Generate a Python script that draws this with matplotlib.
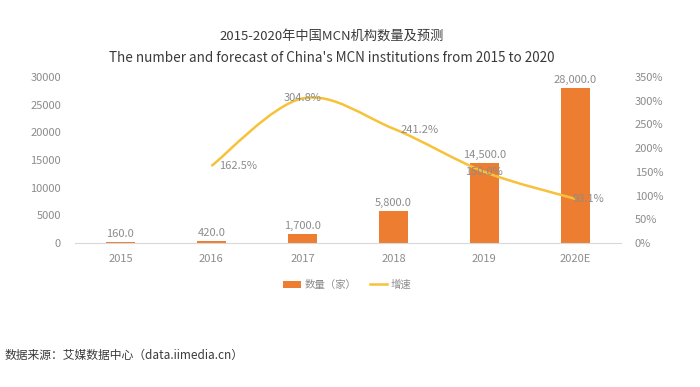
import matplotlib
matplotlib.use("Agg")
import matplotlib.pyplot as plt
from matplotlib.path import Path
from matplotlib.patches import PathPatch, Patch
from matplotlib.lines import Line2D
from matplotlib.ticker import FuncFormatter
import numpy as np

plt.rcParams["font.family"] = ["Noto Sans CJK SC", "DejaVu Sans"]

# 数据
years = ["2015", "2016", "2017", "2018", "2019", "2020E"]
counts = [160, 420, 1700, 5800, 14500, 28000]
growth_years = ["2016", "2017", "2018", "2019", "2020E"]
growth = [162.5, 304.8, 241.2, 150.0, 93.1]

BAR_COLOR = "#ED7D31"
LINE_COLOR = "#F7C23A"
GRIS = "#8C8C8C"
TEXTO = "#3A3A3A"


def _curva_suave(xs, ys, t=0.5):
    """Path bezier tipo Catmull-Rom a traves de los puntos."""
    pts = np.column_stack([xs, ys]).astype(float)
    verts = [pts[0]]
    codes = [Path.MOVETO]
    n = len(pts)
    for i in range(n - 1):
        p0 = pts[i - 1] if i > 0 else pts[i]
        p1 = pts[i]
        p2 = pts[i + 1]
        p3 = pts[i + 2] if i + 2 < n else pts[i + 1]
        c1 = p1 + (p2 - p0) * t / 3
        c2 = p2 - (p3 - p1) * t / 3
        verts += [c1, c2, p2]
        codes += [Path.CURVE4] * 3
    return Path(verts, codes)


fig = plt.figure(figsize=(7, 3.87), dpi=100)
ax = fig.add_axes([0.107, 0.372, 0.78, 0.429])
ax2 = ax.twinx()

x = np.arange(len(years))
ax.bar(x, counts, width=0.32, color=BAR_COLOR, zorder=2)
for xi, v in zip(x, counts):
    ax.text(xi, v + 500, f"{v:,.1f}", ha="center", va="bottom",
            fontsize=8, color=GRIS)

ax.set_xlim(-0.5, len(years) - 0.5)
ax.set_ylim(0, 30000)
ax.set_yticks(range(0, 30001, 5000))
ax.set_xticks(x)
ax.set_xticklabels(years)

# linea de crecimiento
gx = np.array([years.index(y) for y in growth_years], dtype=float)
gy = np.array(growth)
ax2.add_patch(PathPatch(_curva_suave(gx, gy), facecolor="none",
                        edgecolor=LINE_COLOR, lw=1.8, zorder=3))
ax2.set_ylim(0, 350)
ax2.set_yticks(range(0, 351, 50))
ax2.yaxis.set_major_formatter(FuncFormatter(lambda v, p: f"{v:.0f}%"))

offsets = [(0.08, -1, "left"), (0, 0, "center"), (0.08, -3, "left"),
           (0, 0, "center"), (-0.03, 0, "left")]
for xi, v, (dx, dy, ha) in zip(gx, gy, offsets):
    ax2.text(xi + dx, v + dy, f"{v:.1f}%", ha=ha, va="center",
             fontsize=8, color=GRIS, zorder=4)

for a in (ax, ax2):
    for s in a.spines.values():
        s.set_visible(False)
    a.tick_params(length=0, labelsize=8, labelcolor=GRIS)
ax.spines["bottom"].set_visible(True)
ax.spines["bottom"].set_color("#D9D9D9")
ax.tick_params(axis="x", pad=8)
ax.tick_params(axis="y", pad=10)
ax2.tick_params(axis="y", pad=10)

fig.text(0.474, 0.907, "2015-2020年中国MCN机构数量及预测", ha="center",
         va="center", fontsize=9.5, color=TEXTO)
fig.text(0.474, 0.851,
         "The number and forecast of China's MCN institutions from 2015 to 2020",
         ha="center", va="center", fontsize=9.7, color=TEXTO)

handles = [Patch(facecolor=BAR_COLOR, edgecolor="none"),
           Line2D([0], [0], color=LINE_COLOR, lw=1.8)]
fig.legend(handles, ["数量（家）", "增速"], loc="center",
           bbox_to_anchor=(0.496, 0.264), ncol=2, frameon=False,
           fontsize=7.5, labelcolor=GRIS, handlelength=1.7,
           handleheight=0.7, columnspacing=1.3, handletextpad=0.3)

fig.text(0.007, 0.083, "数据来源：艾媒数据中心（data.iimedia.cn）",
         ha="left", va="center", fontsize=8.5, color=TEXTO)

fig.savefig("out.png", dpi=100, facecolor="white")
